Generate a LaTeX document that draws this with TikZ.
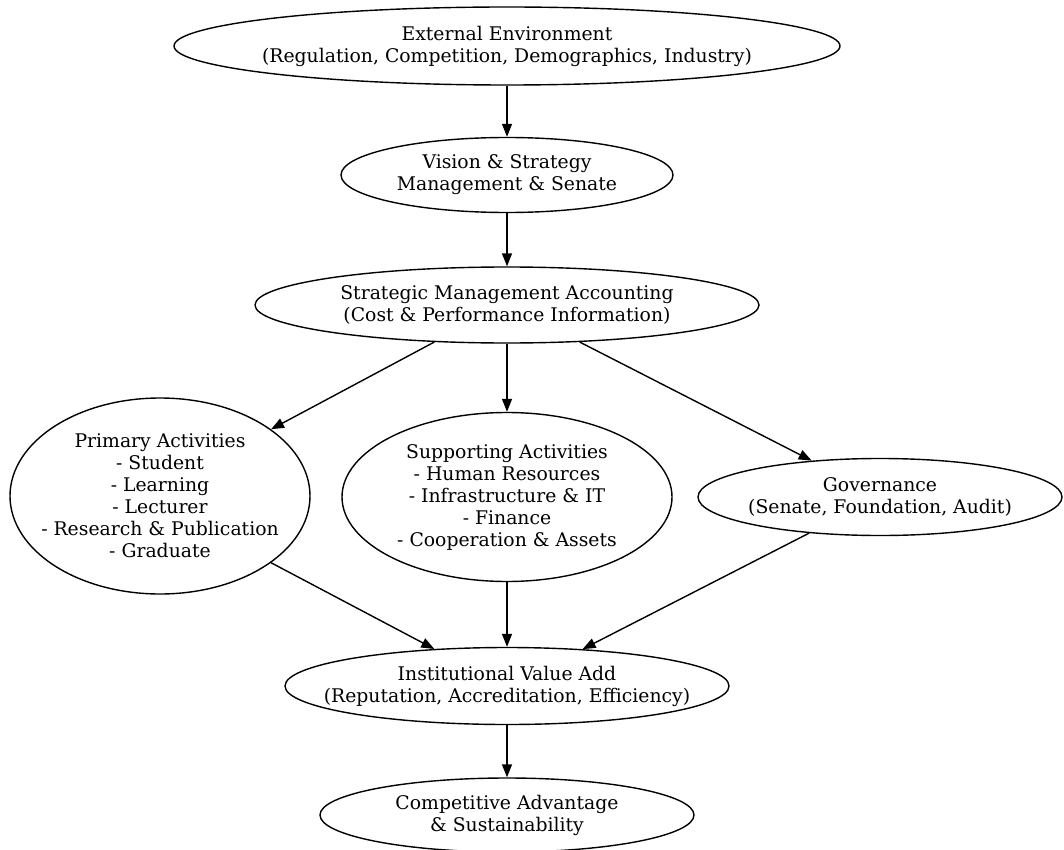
\documentclass[tikz,border=0pt]{standalone}
\usepackage{fontspec}
\setmainfont{DejaVu Serif}
\usetikzlibrary{arrows.meta, shapes.geometric}

\begin{document}
\begin{tikzpicture}
  [
    x=1pt, y=-1pt,
    every node/.style={font=\fontsize{18.8}{22}\selectfont},
    oval/.style={draw, ellipse, line width=1.4pt, align=center,
      inner xsep=-400pt, inner ysep=0pt},
    flow/.style={-{Triangle[length=13pt,width=10pt]}, line width=1.4pt},
  ]
  \useasboundingbox (0,0) rectangle (1064,850);
  % nodes, top to bottom
  \node [oval, minimum width=666, minimum height=78] (ext) at (507,46)
    {External Environment\\(Regulation, Competition, Demographics, Industry)};
  \node [oval, minimum width=332, minimum height=75] (vis) at (507,175)
    {Vision \& Strategy\\Management \& Senate};
  \node [oval, minimum width=504, minimum height=76] (sma) at (507,305)
    {Strategic Management Accounting\\(Cost \& Performance Information)};
  \node [oval, minimum width=300, minimum height=196] (pri) at (160,496)
    {Primary Activities\\- Student\\- Learning\\- Lecturer\\- Research \& Publication\\- Graduate};
  \node [oval, minimum width=330, minimum height=169] (sup) at (507,497)
    {Supporting Activities\\- Human Resources\\- Infrastructure \& IT\\- Finance\\- Cooperation \& Assets};
  \node [oval, minimum width=364, minimum height=77] (gov) at (880,497)
    {Governance\\(Senate, Foundation, Audit)};
  \node [oval, minimum width=444, minimum height=77] (ins) at (507,686)
    {Institutional Value Add\\(Reputation, Accreditation, Efficiency)};
  \node [oval, minimum width=374, minimum height=74] (com) at (507,815)
    {Competitive Advantage\\\& Sustainability};
  % edges
  \draw [flow] (ext) -- (vis);
  \draw [flow] (vis) -- (sma);
  \draw [flow] (sma.207) -- (pri.31);
  \draw [flow] (sma) -- (sup);
  \draw [flow] (sma.333) -- (gov.152);
  \draw [flow] (pri.329) -- (ins.153);
  \draw [flow] (sup) -- (ins);
  \draw [flow] (gov.207) -- (ins.26);
  \draw [flow] (ins) -- (com);
\end{tikzpicture}
\end{document}
